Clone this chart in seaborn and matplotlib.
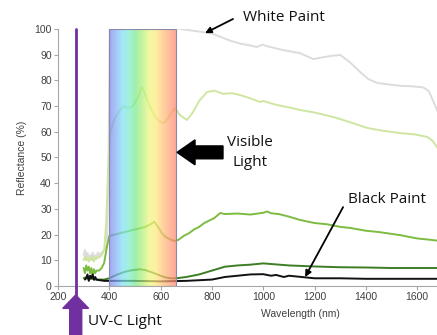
import numpy as np
import pandas as pd
import seaborn as sns
import matplotlib.pyplot as plt
from matplotlib.colors import LinearSegmentedColormap, to_rgb
from matplotlib.patches import FancyArrow, Rectangle

# reflectance spectra (wavelength nm, reflectance %)
white_wl = [300, 305, 310, 315, 320, 325, 330, 335, 340, 345, 350, 355, 360, 370, 380, 390, 396, 402, 500, 600, 660,
            700, 750, 800, 832, 870, 910, 950, 975, 995, 1027, 1077, 1143, 1195, 1233, 1270, 1300, 1338, 1377,
            1410, 1444, 1490, 1533, 1580, 1623, 1645, 1662, 1677, 1690]
white_r = [12, 14, 11, 13, 10, 12, 11, 13, 10.5, 12, 11, 13, 12, 13, 14, 16, 40, 102, 103, 102, 100.3,
           99.7, 99, 98.2, 97, 95.5, 94.3, 93.6, 93, 93.9, 93, 91.8, 90.6, 88.3, 89, 89.6, 89.9, 87, 83.3,
           80.5, 79, 78.4, 77.9, 77.7, 77.3, 75.8, 72, 68.5, 65]

lime_wl = [300, 305, 310, 315, 320, 325, 330, 335, 340, 345, 350, 355, 360, 370, 380, 388, 395, 403, 420, 442, 455,
           469, 488, 510, 527, 540, 559, 580, 605, 620, 640, 656, 675, 703, 725, 750, 781, 810, 843, 880, 910,
           950, 988, 1000, 1050, 1100, 1143, 1200, 1272, 1330, 1405, 1460, 1533, 1590, 1639, 1660, 1677, 1690]
lime_r = [10, 11.5, 10, 11, 9.5, 11, 10, 11.5, 9.5, 11, 10.5, 11.5, 11, 12, 14, 25, 45, 59.5, 65, 68.5, 70,
          69.3, 69.6, 73, 77.5, 74.5, 69.6, 65.5, 63.4, 64, 67, 69.3, 66.5, 64.6, 67.5, 72, 75.5, 76, 74.8, 75, 74.3,
          73, 71.6, 72, 70.5, 69.5, 68.5, 67.5, 65.8, 64, 61.5, 60.5, 59.5, 59, 58, 56.5, 54, 52]

green_wl = [300, 305, 310, 315, 320, 325, 330, 335, 340, 345, 350, 360, 370, 380, 390, 400, 420, 440, 460, 480,
            500, 520, 540, 560, 575, 590, 605, 620, 640, 655, 670, 690, 710, 730, 750, 770, 790, 810, 832, 850,
            900, 950, 1000, 1015, 1030, 1060, 1100, 1143, 1200, 1250, 1300, 1338, 1400, 1450, 1533, 1600, 1650, 1690]
green_r = [7, 5, 8, 6, 7.5, 5, 7, 4, 6.5, 5, 6, 6, 7, 9, 15, 19.5, 20, 20.5, 21, 21.5,
           22, 22.5, 23, 24, 25, 23, 20.5, 19, 18, 17.5, 18, 19.5, 20.5, 22, 23, 24.5, 25.5, 26.5, 28.4, 28,
           28.2, 27.8, 28.5, 29, 28.3, 28, 27, 25.7, 24.5, 24, 23, 22.6, 21.5, 21, 19.8, 18.5, 18, 17.5]

dark_wl = [300, 310, 320, 330, 340, 360, 380, 400, 420, 440, 460, 480, 500, 520, 540, 560, 580, 600, 620, 640,
           660, 700, 750, 800, 850, 900, 950, 1000, 1050, 1100, 1150, 1200, 1300, 1400, 1500, 1600, 1690]
dark_r = [3, 3.5, 2.5, 3, 2.5, 2.5, 2.5, 3, 4, 4.8, 5.5, 6, 6.3, 6.5, 6.2, 5.5, 4.8, 4, 3.3, 3,
          3, 3.5, 4.5, 6, 7.5, 8, 8.3, 8.8, 8.4, 8, 7.8, 7.6, 7.3, 7.2, 7, 7, 7]

black_wl = [305, 310, 315, 320, 325, 330, 335, 340, 345, 350, 360, 380, 400, 500, 600, 700, 800, 850, 900, 950,
            1000, 1030, 1050, 1080, 1100, 1150, 1200, 1250, 1300, 1400, 1500, 1600, 1690]
black_r = [2.5, 3, 4.5, 2, 4, 3, 4.5, 2.5, 3.5, 2.5, 2.3, 2, 2, 2, 1.8, 2, 2.5, 3.5, 4, 4.5,
           4.6, 4, 4.3, 3.5, 4, 3.5, 3, 3, 3, 2.8, 2.8, 2.8, 2.8]

paints = ['white', 'lime', 'green', 'dark', 'black']
paint_colors = ['#dcdcdc', '#cfe6a2', '#7dbb42', '#3d7e24', '#111111']

# visible band and UV-C lamp line
vis_lo, vis_hi = 400, 660
uvc_nm = 269

frames = []
for name, wl, r in zip(paints, [white_wl, lime_wl, green_wl, dark_wl, black_wl],
                       [white_r, lime_r, green_r, dark_r, black_r]):
    frames.append(pd.DataFrame({'wl': wl, 'refl': r, 'paint': name}))
df = pd.concat(frames, ignore_index=True)

sns.set_style('white')
plt.rcParams['font.family'] = ['Liberation Sans', 'DejaVu Sans']

fig = plt.figure(figsize=(4.37, 3.35), dpi=100)
ax = fig.add_axes([58 / 437, 49 / 335, 379 / 437, 257 / 335])

sns.lineplot(data=df, x='wl', y='refl', hue='paint', hue_order=paints,
             palette=dict(zip(paints, paint_colors)), linewidth=1.4, sort=False,
             legend=False, ax=ax, zorder=2)

# rainbow band drawn over the curves
alpha = 0.72
band = ['#9fa7f5', '#a8c4f8', '#a2e8f8', '#a0f2dc', '#a2f0aa', '#c8f4a0', '#f2f8a0',
        '#fff0a0', '#ffd4a0', '#ffbc9c', '#ffa898']
base = [tuple(np.clip(1 - (1 - np.array(to_rgb(c))) / alpha, 0, 1)) for c in band]
cmap = LinearSegmentedColormap.from_list('vis', base)
grad = np.linspace(0, 1, 256).reshape(1, -1)
ax.imshow(grad, extent=[vis_lo, vis_hi, 0, 100], aspect='auto', cmap=cmap, alpha=alpha, zorder=3)
ax.add_patch(Rectangle((vis_lo, 0), vis_hi - vis_lo, 100, fill=False, ec='#8a8aa8', lw=0.8, zorder=4))

ax.set_xlim(200, 1677)
ax.set_ylim(0, 100)
ax.set_xticks(range(200, 1700, 200))
ax.set_yticks(range(0, 101, 10))

for s in ['top', 'right']:
    ax.spines[s].set_visible(False)
for s in ['left', 'bottom']:
    ax.spines[s].set_color('#a6a6a6')
    ax.spines[s].set_linewidth(0.8)
ax.tick_params(axis='both', direction='out', length=3, width=0.8, color='#a6a6a6',
               labelsize=7.5, labelcolor='#404040', pad=1.5)
ax.tick_params(axis='x', bottom=True)
ax.tick_params(axis='y', left=True)

ax.set_xlabel('Wavelength (nm)', fontsize=7.5, color='#404040')
ax.set_ylabel('Reflectance (%)', fontsize=7.5, color='#404040')
ax.xaxis.set_label_coords((300 - 58) / 379, -0.09)
ax.yaxis.set_label_coords(-0.082, 0.5)

# UV-C line and arrow
ax.plot([uvc_nm, uvc_nm], [-4, 100], color='#7030a0', lw=2, clip_on=False, zorder=5)
ax.add_patch(FancyArrow(uvc_nm, -22, 0, 18.5, width=47, head_width=101, head_length=5.2,
                        length_includes_head=True, color='#7030a0', clip_on=False, zorder=5))
ax.text(317, -14, 'UV-C Light', fontsize=11, family=['Open Sans', 'DejaVu Sans'],
        ha='left', va='center', color='#111111')

# visible light arrow
ax.add_patch(FancyArrow(843, 52, -179, 0, width=5, head_width=9.7, head_length=70,
                        length_includes_head=True, color='black', clip_on=False, zorder=5))
ax.text(948, 52, 'Visible\nLight', fontsize=11, family=['Open Sans', 'DejaVu Sans'],
        ha='center', va='center', linespacing=1.45, color='#111111')

# paint labels
ax.annotate('', xy=(773, 98.4), xytext=(882, 103.9), annotation_clip=False,
            arrowprops=dict(arrowstyle='-|>', color='black', lw=1.3, mutation_scale=9,
                            shrinkA=0, shrinkB=0))
ax.text(921, 104.3, 'White Paint', fontsize=11, family=['Open Sans', 'DejaVu Sans'],
        ha='left', va='center', color='#111111')
ax.annotate('', xy=(1163, 3.5), xytext=(1311, 30.7), annotation_clip=False,
            arrowprops=dict(arrowstyle='-|>', color='black', lw=1.3, mutation_scale=9,
                            shrinkA=0, shrinkB=0))
ax.text(1330, 33.5, 'Black Paint', fontsize=11, family=['Open Sans', 'DejaVu Sans'],
        ha='left', va='center', color='#111111')

plt.savefig('out.png', dpi=100)
